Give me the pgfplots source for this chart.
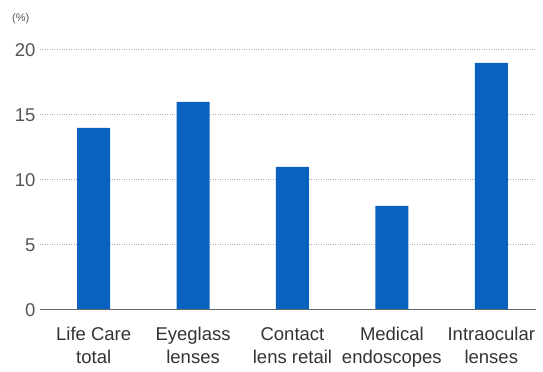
\documentclass[border=0pt]{standalone}
\usepackage{pgfplots}
\pgfplotsset{compat=1.18}
\usepackage{fontspec}
\setmainfont{Liberation Sans}
\definecolor{barblue}{HTML}{0A62C0}
\definecolor{tickgray}{HTML}{555555}
\begin{document}
\begin{tikzpicture}
\begin{axis}[
  scale only axis,
  width=496pt, height=260pt,
  xmin=-0.54, xmax=4.45,
  ymin=0, ymax=20,
  ytick={0,5,10,15,20},
  xtick={0,1,2,3,4},
  xticklabels={{Life Care\\total},{Eyeglass\\lenses},{Contact\\lens retail},{Medical\\endoscopes},{Intraocular\\lenses}},
  xticklabel style={align=center, font=\fontsize{18.5}{23}\selectfont, text=black!80, yshift=-14pt},
  yticklabel style={font=\fontsize{18.5}{20}\selectfont, text=tickgray, xshift=-1pt},
  /pgf/number format/assume math mode=true,
  axis line style={draw=none},
  major tick length=0pt,
  ymajorgrids,
  grid style={dotted, gray!60, line width=1pt},
  clip=false,
]
\addplot[ybar, bar width=33pt, fill=barblue, draw=none] coordinates {(0,14) (1,16) (2,11) (3,8) (4,19)};
\draw[gray!80!black, line width=1pt] (axis cs:-0.54,0) -- (axis cs:4.45,0);
\node[anchor=south west, inner sep=0pt, font=\fontsize{11}{12}\selectfont, text=tickgray] at (rel axis cs:0,1) [xshift=-28pt, yshift=26pt] {(\%)};
\path (rel axis cs:0,0) ++(-40pt,-57pt) coordinate (bl);
\path (rel axis cs:1,1) ++(7pt,50pt) coordinate (tr);
\pgfresetboundingbox
\path[use as bounding box] (bl) rectangle (tr);
\end{axis}
\end{tikzpicture}
\end{document}
